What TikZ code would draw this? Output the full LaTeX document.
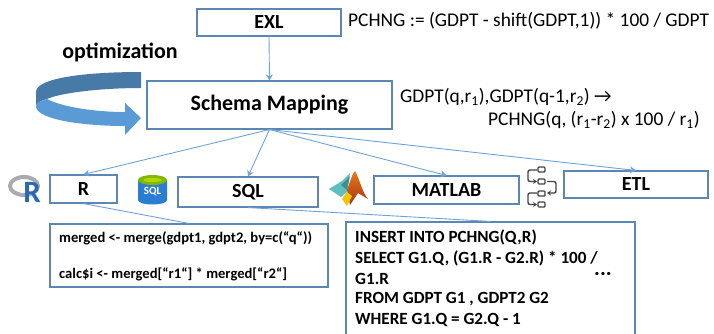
\documentclass[tikz,border=0pt]{standalone}
\usepackage{fontspec}
\setmainfont{Carlito}
\usetikzlibrary{arrows.meta}
\definecolor{boxblue}{HTML}{5B87B2}
\definecolor{linkblue}{HTML}{6FA3D8}
\definecolor{arrowblue}{HTML}{5B9BD5}
\definecolor{arrowdark}{HTML}{487AA8}
\definecolor{sqlblue}{HTML}{2B7CD3}
\definecolor{sqlgreen}{HTML}{7FB800}
\definecolor{rblue}{HTML}{2A68B5}
\definecolor{rgrey}{HTML}{A9ABB0}
\definecolor{teal1}{HTML}{5FBFBF}
\definecolor{teal2}{HTML}{3F8F8F}
\definecolor{mlred}{HTML}{A8340F}
\definecolor{mlorange}{HTML}{E8791A}
\definecolor{mlyellow}{HTML}{F5C400}
\definecolor{iconline}{HTML}{444444}
\tikzset{
  box/.style={draw=boxblue,line width=1.1pt,fill=white,anchor=center,inner sep=0pt},
  link/.style={draw=linkblue,line width=0.9pt},
  linkarrow/.style={link,-{Stealth[length=6pt,width=7pt]}},
  plain/.style={anchor=west,inner sep=0pt,align=left,font=\fontsize{19.4}{22}\selectfont},
  rcodeline/.style={anchor=west,inner sep=0pt,font=\bfseries\fontsize{14.6}{17}\selectfont},
  sqlline/.style={anchor=west,inner sep=0pt,font=\bfseries\fontsize{17.1}{20}\selectfont},
  lbl/.style={font=\bfseries\fontsize{20}{23}\selectfont},
  iconbox/.style={draw=iconline,line width=1.4pt,rounded corners=1pt},
  iconarrow/.style={draw=iconline,line width=1.4pt,rounded corners=2pt,-{Stealth[length=4pt,width=5pt]}}
}
\begin{document}
\begin{tikzpicture}[x=1pt,y=-1pt]
\useasboundingbox (0,0) rectangle (714,333);
% boxes
\node[box,lbl,minimum width=144pt,minimum height=27pt] (exl) at (269,22.5) {EXL};
\node[box,minimum width=245pt,minimum height=48pt,font=\bfseries\fontsize{22}{25}\selectfont] (map) at (269.5,105) {Schema Mapping};
\node[box,lbl,minimum width=67pt,minimum height=28pt] (r) at (83.5,189) {R};
\node[box,lbl,minimum width=140pt,minimum height=30pt] (sql) at (248,192) {SQL};
\node[box,lbl,minimum width=145pt,minimum height=28pt] (matlab) at (446.5,190) {MATLAB};
\node[box,lbl,minimum width=144pt,minimum height=27pt] (etl) at (636,184.5) {ETL};
\node[box,minimum width=278pt,minimum height=63pt] (rcode) at (189,255.5) {};
\node[box,minimum width=289pt,minimum height=130pt] (sqlcode) at (490.5,287) {};
% connectors
\draw[linkarrow] (exl.south) -- (map.north);
\draw[linkarrow] (map.south) -- (r.north);
\draw[linkarrow] (map.south) -- (sql.north);
\draw[linkarrow] (map.south) -- (matlab.north);
\draw[linkarrow] (map.south) -- (etl.north);
\draw[link] (r.south) -- (rcode.north);
\draw[link] (sql.south) -- (sqlcode.north);
% texts
\node[plain] (f1) at (348,21) {PCHNG := (GDPT - shift(GDPT,1)) * 100 / GDPT};
\node[plain] (f2) at (400,97) {GDPT(q,r\textsubscript{1}),GDPT(q-1,r\textsubscript{2}) \symbol{"2192}};
\node[plain] (f3) at (488,120) {PCHNG(q, (r\textsubscript{1}-r\textsubscript{2}) x 100 / r\textsubscript{1})};
\node[anchor=center,inner sep=0pt,font=\bfseries\fontsize{22}{25}\selectfont] (opt) at (120,52) {optimization};
\node[rcodeline] (c1) at (59,238) {merged <- merge(gdpt1, gdpt2, by=c(“q“))};
\node[rcodeline] (c2) at (59,274) {calc\$i <- merged[“r1“] * merged[“r2“]};
\node[sqlline] (s1) at (355,237) {INSERT INTO PCHNG(Q,R)};
\node[sqlline] (s2) at (355,258) {SELECT G1.Q, (G1.R - G2.R) * 100 /};
\node[sqlline] (s3) at (355,279) {G1.R};
\node[sqlline] (s4) at (355,299) {FROM GDPT G1 , GDPT2 G2};
\node[sqlline] (s5) at (355,320) {WHERE G1.Q = G2.Q - 1};
\node[anchor=base,inner sep=0pt,text height=4pt,text depth=0pt,font=\bfseries\fontsize{22}{24}\selectfont] (dots) at (603,275) {...};
% optimization arrow
\fill[arrowdark] (141,72) .. controls (85,72) and (36,78) .. (36,92) -- (36,107)
  .. controls (36,103) and (40,101) .. (47,99) .. controls (60,93) and (100,88) .. (141,88) -- cycle;
\fill[arrowblue] (36,107) .. controls (38,120) and (85,126) .. (125,126) -- (125,135) -- (141,118)
  -- (125,103) -- (125,112) .. controls (95,112) and (62,107) .. (47,99)
  .. controls (40,101) and (36,103) .. (36,107) -- cycle;
% R logo
\draw[rgrey,line width=4pt] (24,186) ellipse [x radius=14,y radius=9];
\node[anchor=center,inner sep=0pt,text=rblue,font=\bfseries\fontsize{31}{31}\selectfont] (rlogo) at (32,192) {R};
% SQL logo
\fill[sqlblue] (138,180) -- (138,200) .. controls (138,206) and (167,206) .. (167,200) -- (167,180) -- cycle;
\fill[sqlgreen] (152.5,180) ellipse [x radius=14.5,y radius=5];
\fill[sqlgreen!60!yellow] (152.5,180) ellipse [x radius=9,y radius=2.2];
\node[anchor=center,inner sep=0pt,text=white,font=\bfseries\fontsize{11}{11}\selectfont] (sqllogo) at (152.5,192) {SQL};
% MATLAB logo
\fill[teal1] (329,189) -- (342,181) -- (350,173) -- (347,192) -- (341,197) -- cycle;
\fill[teal2] (341,185) -- (350,176) -- (347,190) -- cycle;
\shade[top color=mlorange,bottom color=mlred] (355,171) .. controls (360,180) and (362,192) .. (368,199)
  -- (358,193) -- (350,205) -- (347,190) .. controls (350,182) and (352,174) .. (355,171) -- cycle;
\fill[mlyellow] (347,192) -- (352,196) -- (347,206) -- (342,199) -- cycle;
% ETL icon
\draw[iconbox] (538,167) rectangle (545,172);
\draw[iconbox] (538,179) rectangle (545,184);
\draw[iconbox] (538,191) rectangle (545,196);
\draw[iconbox] (538,202) rectangle (545,207);
\draw[iconarrow] (537,170) -- (528,170) -- (528,181.5) -- (537,181.5);
\draw[iconarrow] (537,193) -- (528,193) -- (528,204.5) -- (537,204.5);
\draw[iconarrow] (547,181.5) -- (556,181.5) -- (556,193) -- (547,193);
\end{tikzpicture}
\end{document}
